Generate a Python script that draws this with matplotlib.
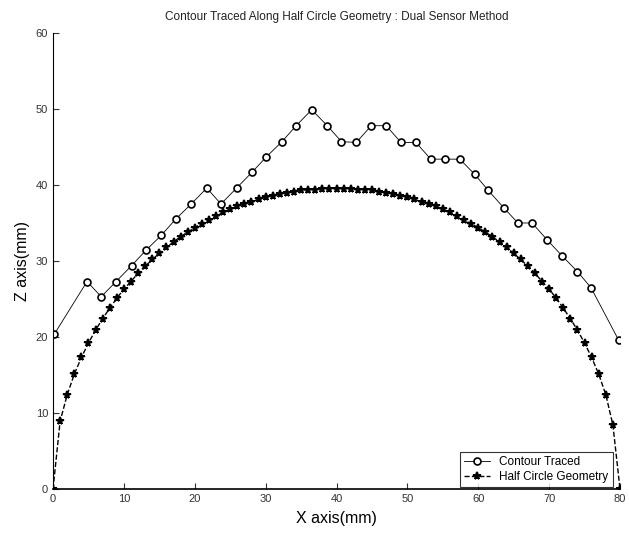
import matplotlib.pyplot as plt

# contour traced by the dual sensor
x_trace = [0.2, 4.8, 6.8, 8.9, 11.1, 13.1, 15.3, 17.3, 19.5, 21.7, 23.7, 25.9,
           28.1, 30.1, 32.3, 34.3, 36.5, 38.7, 40.7, 42.8, 44.9, 47.0, 49.1,
           51.2, 53.3, 55.3, 57.4, 59.5, 61.4, 63.6, 65.6, 67.6, 69.7, 71.8,
           74.0, 75.9, 79.8]
z_trace = [20.4, 27.3, 25.3, 27.3, 29.4, 31.4, 33.4, 35.5, 37.5, 39.6, 37.5, 39.6,
           41.7, 43.7, 45.7, 47.8, 49.9, 47.8, 45.7, 45.6, 47.8, 47.8, 45.6,
           45.6, 43.4, 43.4, 43.4, 41.4, 39.3, 37.0, 35.0, 35.0, 32.8, 30.7,
           28.6, 26.5, 19.6]

# half circle geometry, x = 0..80 step 1
x_circle = list(range(0, 81))
z_circle = [0.0, 8.9, 12.4, 15.1, 17.3, 19.2, 20.9, 22.4, 23.8, 25.1,
            26.3, 27.3, 28.4, 29.3, 30.2, 31.0, 31.8, 32.5, 33.2, 33.8,
            34.4, 34.9, 35.4, 35.9, 36.4, 36.8, 37.2, 37.5, 37.8, 38.1,
            38.4, 38.6, 38.8, 39.0, 39.1, 39.3, 39.4, 39.4, 39.5, 39.5,
            39.5, 39.5, 39.5, 39.4, 39.4, 39.3, 39.1, 39.0, 38.8, 38.6,
            38.4, 38.1, 37.8, 37.5, 37.2, 36.8, 36.4, 35.9, 35.4, 34.9,
            34.4, 33.8, 33.2, 32.5, 31.8, 31.0, 30.2, 29.3, 28.4, 27.3,
            26.3, 25.1, 23.8, 22.4, 20.9, 19.2, 17.3, 15.1, 12.4, 8.4, 0.0]

plt.rcParams['font.family'] = ['Liberation Sans', 'DejaVu Sans']

fig = plt.figure(figsize=(6.29, 5.33), dpi=100)
ax = fig.add_axes([0.0843, 0.0826, 0.9014, 0.8555])

ax.plot(x_trace, z_trace, '-', color='black', lw=0.6, marker='o', ms=5,
        mfc='white', mec='black', mew=1.2, label='Contour Traced')
ax.plot(x_circle, z_circle, '--', color='black', lw=1.0, marker='*', ms=5.5,
        mfc='black', mec='black', mew=1.4, label='Half Circle Geometry')

ax.set_xlim(0, 80)
ax.set_ylim(0, 60)
ax.set_xticks(range(0, 81, 10))
ax.set_yticks(range(0, 61, 10))
ax.tick_params(direction='in', length=4, width=0.8, labelsize=8, colors='#333333')
for s in ['top', 'right']:
    ax.spines[s].set_visible(False)
ax.spines['left'].set_linewidth(0.8)
ax.spines['bottom'].set_linewidth(1.2)

ax.set_title('Contour Traced Along Half Circle Geometry : Dual Sensor Method',
             fontsize=8.5, color='#222222', pad=9)
ax.set_xlabel('X axis(mm)', fontsize=11.5, labelpad=5)
ax.set_ylabel('Z axis(mm)', fontsize=11.5, labelpad=4)

leg = ax.legend(loc='lower right', bbox_to_anchor=(0.99, 0.0), fontsize=8.5,
                frameon=True, fancybox=False, borderpad=0.35, handlelength=2.2,
                labelspacing=0.25, borderaxespad=0.15)
leg.get_frame().set_edgecolor('black')
leg.get_frame().set_linewidth(0.8)

fig.savefig('out.png', dpi=100)
